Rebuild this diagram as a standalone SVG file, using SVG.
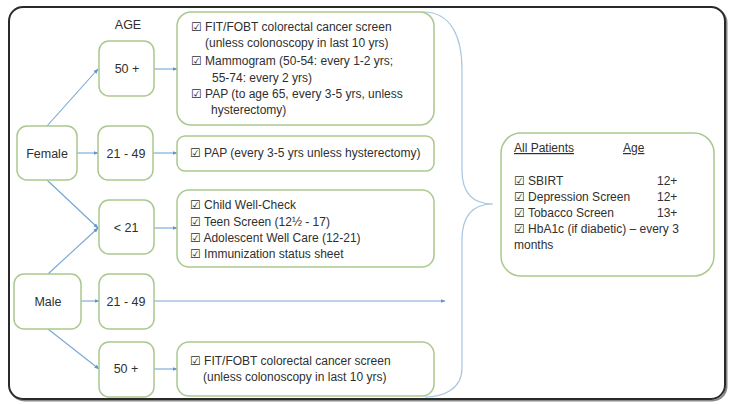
<svg xmlns="http://www.w3.org/2000/svg" width="732" height="404" viewBox="0 0 732 404">
<defs>
<style>
text{font-family:"Liberation Sans","DejaVu Sans",sans-serif;font-size:12px;fill:#2f2f2f}
.c{text-anchor:middle;font-size:12.5px}
.box{fill:#fff;stroke:#a9c98f;stroke-width:1.5}
.ln{fill:none;stroke:#76a7d6;stroke-width:1.1}
.brace{fill:none;stroke:#a9c6df;stroke-width:1.2}
.u{text-decoration:underline}
</style>
<marker id="ah" viewBox="0 0 10 10" refX="9" refY="5" markerWidth="5" markerHeight="5" orient="auto" markerUnits="userSpaceOnUse">
<path d="M0,1 L10,5 L0,9 z" fill="#5f96cf"/>
</marker>
</defs>
<rect x="0" y="0" width="732" height="404" fill="#fff"/>
<rect x="10.5" y="8.5" width="716" height="392" rx="14" fill="none" stroke="#888" stroke-width="2"/>
<rect x="9" y="7" width="716" height="392" rx="14" fill="#fff" stroke="#2a2a2a" stroke-width="2"/>

<text id="age-label" class="c" x="128" y="29">AGE</text>

<g id="connectors">
<line class="ln" x1="47" y1="126" x2="98" y2="69" marker-end="url(#ah)"/>
<line class="ln" x1="77" y1="153" x2="98" y2="153" marker-end="url(#ah)"/>
<line class="ln" x1="47" y1="180" x2="98" y2="228" marker-end="url(#ah)"/>
<line class="ln" x1="48" y1="274" x2="98" y2="228" marker-end="url(#ah)"/>
<line class="ln" x1="81" y1="301" x2="99" y2="301" marker-end="url(#ah)"/>
<line class="ln" x1="48" y1="329" x2="99" y2="369" marker-end="url(#ah)"/>
<line class="ln" x1="154" y1="69" x2="177" y2="69" marker-end="url(#ah)"/>
<line class="ln" x1="153" y1="153" x2="177" y2="153" marker-end="url(#ah)"/>
<line class="ln" x1="154" y1="228" x2="177" y2="228" marker-end="url(#ah)"/>
<line class="ln" x1="154" y1="301" x2="445" y2="301" marker-end="url(#ah)"/>
<line class="ln" x1="154" y1="369" x2="177" y2="369" marker-end="url(#ah)"/>
<path class="brace" d="M423,12 C452,12 462,38 462,70 L462,170 C462,194 474,204 493,204 C474,204 462,214 462,240 L462,368 C462,390 442,397 425,397"/>
</g>

<g id="female"><rect class="box" x="17" y="126" width="60" height="54" rx="10"/><text class="c" x="47" y="158">Female</text></g>
<g id="female-50"><rect class="box" x="99" y="41" width="55" height="55" rx="10"/><text class="c" x="127" y="73">50 +</text></g>
<g id="female-21-49"><rect class="box" x="98" y="126" width="55" height="54" rx="10"/><text class="c" x="126" y="158">21 - 49</text></g>
<g id="under-21"><rect class="box" x="99" y="200" width="55" height="54" rx="10"/><text class="c" x="126" y="232">&lt; 21</text></g>
<g id="male"><rect class="box" x="14" y="274" width="67" height="55" rx="10"/><text class="c" x="48" y="306">Male</text></g>
<g id="male-21-49"><rect class="box" x="99" y="274" width="55" height="55" rx="10"/><text class="c" x="126" y="306">21 - 49</text></g>
<g id="male-50"><rect class="box" x="99" y="342" width="55" height="55" rx="10"/><text class="c" x="126" y="373">50 +</text></g>

<g id="female-50-screens"><rect class="box" x="177" y="12" width="257" height="113" rx="14"/>
<text x="191" y="31">☑ FIT/FOBT colorectal cancer screen</text>
<text x="205" y="47">(unless  colonoscopy in last 10 yrs)</text>
<text x="191" y="65">☑ Mammogram (50-54: every 1-2 yrs;</text>
<text x="212" y="82">55-74: every 2 yrs)</text>
<text x="191" y="98">☑ PAP (to age 65, every 3-5 yrs, unless</text>
<text x="211" y="114">hysterectomy)</text>
</g>
<g id="female-21-49-screens"><rect class="box" x="177" y="136" width="257" height="35" rx="8"/>
<text x="190" y="157">☑ PAP (every 3-5 yrs unless hysterectomy)</text>
</g>
<g id="under-21-screens"><rect class="box" x="177" y="190" width="257" height="77" rx="12"/>
<text x="190" y="209">☑ Child Well-Check</text>
<text x="190" y="226">☑ Teen Screen (12½ - 17)</text>
<text x="190" y="242">☑ Adolescent Well Care (12-21)</text>
<text x="190" y="258">☑ Immunization status sheet</text>
</g>
<g id="male-50-screens"><rect class="box" x="177" y="342" width="257" height="54" rx="12"/>
<text x="190" y="365">☑ FIT/FOBT colorectal cancer screen</text>
<text x="203" y="381">(unless  colonoscopy in last 10 yrs)</text>
</g>
<g id="all-patients"><rect class="box" x="501" y="133" width="213" height="143" rx="20"/>
<text class="u" x="514" y="152">All Patients</text>
<text class="u" x="623" y="152">Age</text>
<text x="514" y="185">☑ SBIRT</text><text x="657" y="185">12+</text>
<text x="514" y="201">☑ Depression Screen</text><text x="657" y="201">12+</text>
<text x="514" y="217">☑ Tobacco Screen</text><text x="657" y="217">13+</text>
<text x="514" y="233">☑ HbA1c (if diabetic) – every 3</text>
<text x="514" y="249">months</text>
</g>
</svg>
